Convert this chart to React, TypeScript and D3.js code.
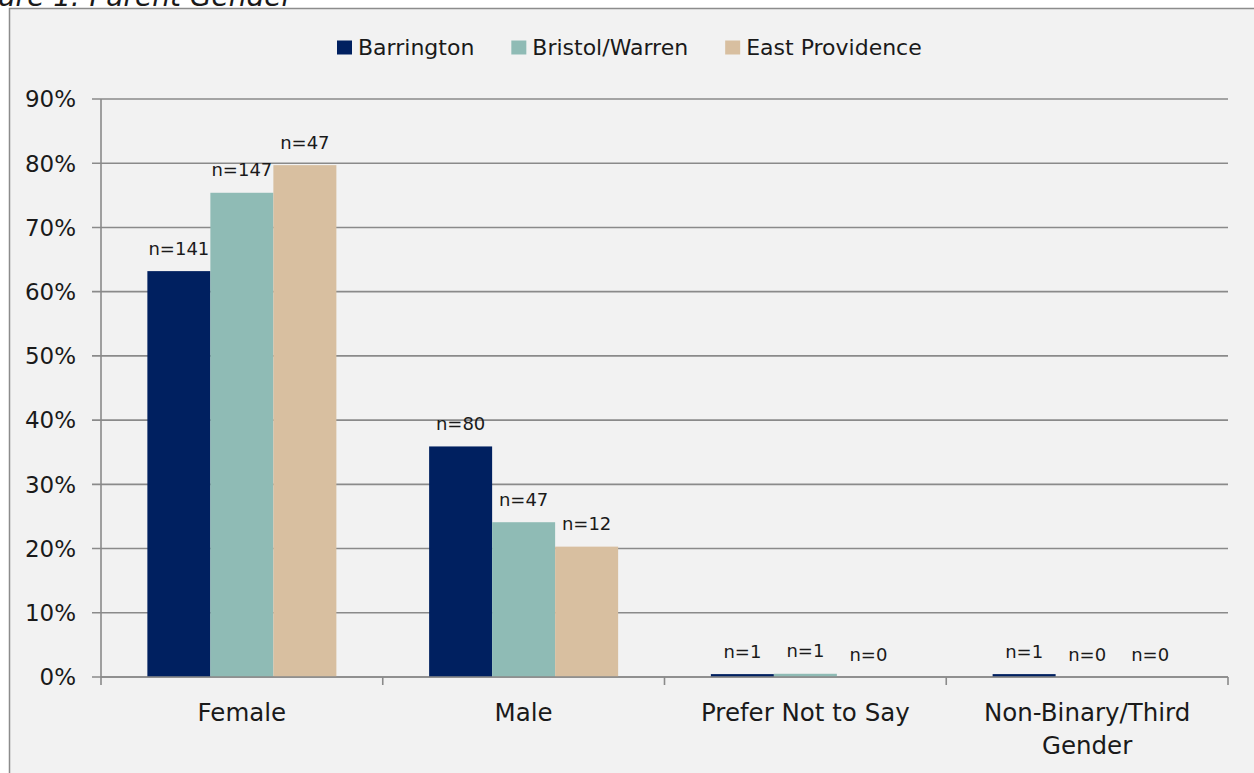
import React from "react";
import * as d3 from "d3";

const categories = ["Female", "Male", "Prefer Not to Say", "Non-Binary/Third Gender"];
const categoryLines = [["Female"], ["Male"], ["Prefer Not to Say"], ["Non-Binary/Third", "Gender"]];
const seriesNames = ["Barrington", "Bristol/Warren", "East Providence"];
const seriesColors = ["#002060", "#8fbbb5", "#d8bfa0"];
const barringtonPct = [63.2, 35.9, 0.45, 0.45];
const bristolPct = [75.4, 24.1, 0.5, 0];
const eastProvPct = [79.7, 20.3, 0, 0];
const barringtonN = [141, 80, 1, 1];
const bristolN = [147, 47, 1, 0];
const eastProvN = [47, 12, 0, 0];
const yTicks = [0, 10, 20, 30, 40, 50, 60, 70, 80, 90];
const titleText = "Figure 1: Parent Gender";

const seriesPct = [barringtonPct, bristolPct, eastProvPct];
const seriesN = [barringtonN, bristolN, eastProvN];

const FONT = "'DejaVu Sans', sans-serif";
const W = 1254;
const H = 773;
const GRID = "#8a8a8a";

function measure(text: string, size: number) {
  const c = document.createElement("canvas");
  const ctx = c.getContext("2d");
  if (!ctx) return text.length * size * 0.6;
  ctx.font = `${size}px 'DejaVu Sans'`;
  return ctx.measureText(text).width;
}

export default function App() {
  const left = 101;
  const right = 1228;
  const y = d3.scaleLinear().domain([0, 90]).range([677, 99]);
  const x0 = d3.scaleBand<string>().domain(categories).range([left, right]).paddingInner(0).paddingOuter(0);
  const x1 = d3
    .scaleBand<string>()
    .domain(seriesNames)
    .range([0, x0.bandwidth()])
    .paddingInner(0)
    .paddingOuter(0.736);

  const legendSize = 22;
  let lx = 337;
  const legendItems = seriesNames.map((name, i) => {
    const item = { name, x: lx, color: seriesColors[i] };
    lx += 21 + measure(name, legendSize) + 37;
    return item;
  });

  return (
    <svg
      width={W}
      height={H}
      style={{ position: "absolute", left: 0, top: 0, background: "#ffffff" }}
      fontFamily={FONT}
    >
      <rect x={9.5} y={8.5} width={W + 20} height={H + 20} fill="#f2f2f2" stroke="#8c8c8c" strokeWidth={1.5} />
      <text x={293} y={6} textAnchor="end" fontSize={28} fontStyle="italic" fill="#1a1a1a">
        {titleText}
      </text>

      {yTicks.map((t) => (
        <line key={"g" + t} x1={92} x2={right} y1={y(t)} y2={y(t)} stroke={GRID} strokeWidth={1.6} />
      ))}
      <line x1={left} x2={left} y1={y(90)} y2={y(0)} stroke={GRID} strokeWidth={1.6} />
      {yTicks.map((t) => (
        <text key={"t" + t} x={76} y={y(t)} dy="0.36em" textAnchor="end" fontSize={23} fill="#1a1a1a">
          {t + "%"}
        </text>
      ))}

      {categories.map((cat, ci) => (
        <g key={cat} transform={`translate(${x0(cat)},0)`}>
          {seriesNames.map((s, si) => {
            const v = seriesPct[si][ci];
            const bx = x1(s) as number;
            const bw = x1.bandwidth();
            return (
              <g key={s}>
                {v > 0 && <rect x={bx} y={y(v)} width={bw} height={y(0) - y(v)} fill={seriesColors[si]} />}
                <text x={bx + bw / 2} y={y(v) - 16.5} textAnchor="middle" fontSize={18} fill="#1a1a1a">
                  {"n=" + seriesN[si][ci]}
                </text>
              </g>
            );
          })}
        </g>
      ))}

      <line x1={left} x2={right} y1={y(0)} y2={y(0)} stroke={GRID} strokeWidth={1.6} />
      {categories.map((cat) => (
        <line
          key={"xt" + cat}
          x1={x0(cat) as number}
          x2={x0(cat) as number}
          y1={y(0)}
          y2={y(0) + 8}
          stroke={GRID}
          strokeWidth={1.6}
        />
      ))}
      <line x1={right} x2={right} y1={y(0)} y2={y(0) + 8} stroke={GRID} strokeWidth={1.6} />
      {categories.map((cat, ci) => (
        <text
          key={"xl" + cat}
          x={(x0(cat) as number) + x0.bandwidth() / 2}
          y={721}
          textAnchor="middle"
          fontSize={24.5}
          fill="#1a1a1a"
        >
          {categoryLines[ci].map((ln, li) => (
            <tspan key={li} x={(x0(cat) as number) + x0.bandwidth() / 2} dy={li === 0 ? 0 : 32.6}>
              {ln}
            </tspan>
          ))}
        </text>
      ))}

      {legendItems.map((it) => (
        <g key={it.name}>
          <rect x={it.x} y={40.5} width={15} height={14} fill={it.color} />
          <text x={it.x + 21} y={54.7} fontSize={legendSize} fill="#1a1a1a">
            {it.name}
          </text>
        </g>
      ))}
    </svg>
  );
}
